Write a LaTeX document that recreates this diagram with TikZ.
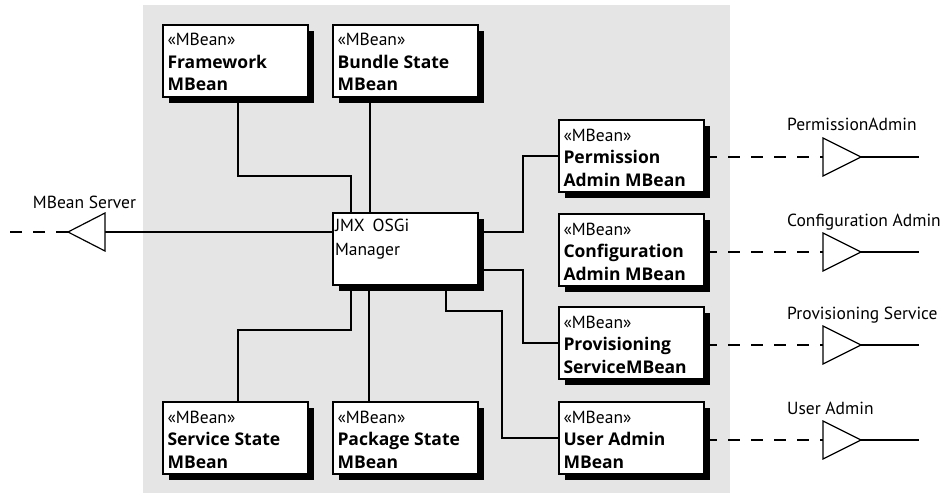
\documentclass[tikz,border=0pt]{standalone}
\usepackage{fontspec}
\setmainfont{PT Sans}
\newfontfamily\ofam{Open Sans}
\usetikzlibrary{shadows,calc}
\definecolor{bggray}{RGB}{229,229,229}
\pgfdeclarelayer{bg}
\pgfdeclarelayer{edges}
\pgfsetlayers{bg,edges,main}
\tikzset{
  mbox/.style={draw, line width=2pt, fill=white, minimum width=145pt, minimum height=72pt,
    inner sep=0pt, anchor=north west,
    drop shadow={shadow xshift=6pt, shadow yshift=-6pt, fill=black, opacity=1}},
  conn/.style={line width=2pt},
  iface/.style={line width=2pt, dash pattern=on 12pt off 11pt},
  tri/.style={line width=1.2pt, fill=white},
  lbl/.style={inner sep=0pt, font=\fontsize{17.5}{20}\selectfont},
}
\newcommand\mbt[2]{\parbox[c][72pt][t]{136pt}{\fontsize{17.5}{22.5}\selectfont\rule{0pt}{21pt}«MBean»\\{\ofam\bfseries #1}\\{\ofam\bfseries #2}}}
\begin{document}
\begin{tikzpicture}[x=1pt,y=-1pt]
\useasboundingbox (0,0) rectangle (946,495);
\begin{pgfonlayer}{bg}
  \fill[white] (0,0) rectangle (946,495);
  \fill[bggray] (143,5) rectangle (730,493);
\end{pgfonlayer}

\node[mbox] (fw) at (162,24) {\mbt{Framework}{MBean}};
\node[mbox] (bs) at (332,24) {\mbt{Bundle State}{MBean}};
\node[mbox] (jmx) at (332,212) {\parbox[c][72pt][t]{141pt}{\fontsize{17.5}{24}\selectfont\rule{0pt}{18pt}JMX\hspace{0.45em}OSGi\\Manager}};
\node[mbox] (ss) at (162,401) {\mbt{Service State}{MBean}};
\node[mbox] (ps) at (332,401) {\mbt{Package State}{MBean}};
\node[mbox] (perm) at (558,119) {\mbt{Permission}{Admin MBean}};
\node[mbox] (conf) at (558,213) {\mbt{Configuration}{Admin MBean}};
\node[mbox] (prov) at (558,306) {\mbt{Provisioning}{ServiceMBean}};
\node[mbox] (ua) at (558,401) {\mbt{User Admin}{MBean}};

% MBean server interface
\coordinate (msb) at (105,232);
\coordinate (msa) at (68,232);
\coordinate (mse) at (10,232);

\begin{pgfonlayer}{edges}
  \draw[conn] ([xshift=76pt]fw.south west) -- ++(0,78) -| ([xshift=19pt]jmx.north west);
  \draw[conn] ([xshift=38pt]bs.south west) -- ([xshift=38pt]jmx.north west);
  \draw[conn] (jmx.west |- msb) -- (msb);
  \draw[conn] ([xshift=19pt]jmx.south west) -- ++(0,44) -| ([xshift=76pt]ss.north west);
  \draw[conn] ([xshift=37pt]jmx.south west) -- ([xshift=37pt]ps.north west);
  \draw[conn] ([xshift=114pt]jmx.south west) -- ++(0,25) -- ++(56,0) |- (ua.west);
  \draw[conn] (jmx.east |- msb) -- ++(44,0) |- (perm.west);
  \draw[conn] ([yshift=-58pt]jmx.north east) -- ++(44,0) |- (prov.west);
\end{pgfonlayer}

\draw[iface] (msa) -- (mse);
\draw[tri] ([yshift=19pt]msb) -- (msa) -- ([yshift=-19pt]msb) -- cycle;
\node[lbl, anchor=base] (lms) at (84.5,208) {MBean Server};

\foreach \n/\y/\t in {perm/157/PermissionAdmin, conf/252/Configuration Admin, prov/345/Provisioning Service, ua/440/User Admin} {
  \coordinate (\n-b) at (823,\y);
  \coordinate (\n-a) at (861,\y);
  \coordinate (\n-e) at (919,\y);
  \draw[iface] (\n.east |- \n-b) -- (\n-b);
  \draw[tri] ([yshift=19pt]\n-b) -- (\n-a) -- ([yshift=-19pt]\n-b) -- cycle;
  \draw[conn] (\n-a) -- (\n-e);
  \node[lbl, anchor=base west] (\n-l) at (787,\y-26) {\t};
}
\end{tikzpicture}
\end{document}
